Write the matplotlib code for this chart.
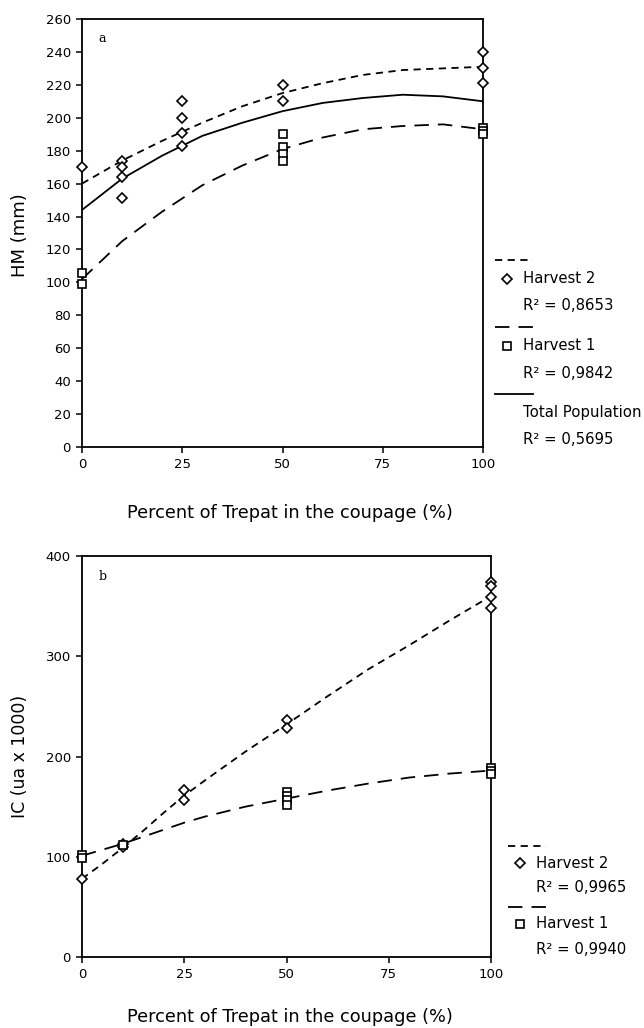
import matplotlib
matplotlib.use("Agg")
import matplotlib.pyplot as plt
from matplotlib.lines import Line2D

# ---- panel a: HM (mm) ----
a_h2_x = [0, 10, 10, 10, 10, 25, 25, 25, 25, 50, 50, 100, 100, 100]
a_h2_y = [170, 174, 170, 164, 151, 210, 200, 191, 183, 220, 210, 240, 230, 221]
a_h1_x = [0, 0, 50, 50, 50, 50, 100, 100, 100]
a_h1_y = [106, 99, 190, 182, 178, 174, 194, 192, 190]

curve_x = [0, 10, 20, 30, 40, 50, 60, 70, 80, 90, 100]
a_fit_h2 = [160, 174, 186, 197, 207, 215, 221, 226, 229, 230, 231]
a_fit_h1 = [102, 125, 143, 159, 171, 181, 188, 193, 195, 196, 193]
a_fit_tot = [144, 163, 177, 189, 197, 204, 209, 212, 214, 213, 210]

# ---- panel b: IC (ua x 1000) ----
b_h2_x = [0, 10, 10, 25, 25, 50, 50, 100, 100, 100, 100]
b_h2_y = [78, 113, 110, 167, 157, 236, 228, 374, 370, 359, 348]
b_h1_x = [0, 0, 10, 50, 50, 50, 50, 100, 100, 100]
b_h1_y = [102, 99, 112, 165, 161, 157, 152, 189, 186, 183]

b_curve_x = [0, 5, 10, 15, 20, 25, 30, 40, 50, 60, 70, 80, 90, 100]
b_fit_h2 = [78, 93, 109, 126, 144, 161, 176, 205, 232, 260, 287, 311, 336, 360]
b_fit_h1 = [101, 107, 113, 120, 127, 134, 140, 150, 158, 166, 173, 179, 183, 186]

x_ticks = [0, 25, 50, 75, 100]
xlabel = "Percent of Trepat in the coupage (%)"

W, H = 644, 1028
LS_H2 = (0, (4, 3))
LS_H1 = (0, (8, 5))
MS = {"D": 5, "s": 6}


def fx(px):
    return px / W


def fy(py):
    return 1 - py / H


fig = plt.figure(figsize=(W / 100, H / 100), dpi=100)

ax1 = fig.add_axes([fx(82), fy(447), (483 - 82) / W, (447 - 19) / H])
ax2 = fig.add_axes([fx(82), fy(957), (491 - 82) / W, (957 - 556) / H])

mk = dict(linestyle="none", mfc="white", mec="black", mew=1.2, zorder=3, clip_on=False)

ax1.plot(curve_x, a_fit_h2, color="black", lw=1.3, ls=LS_H2)
ax1.plot(curve_x, a_fit_h1, color="black", lw=1.3, ls=LS_H1)
ax1.plot(curve_x, a_fit_tot, color="black", lw=1.3)
ax1.plot(a_h2_x, a_h2_y, marker="D", ms=MS["D"], **mk)
ax1.plot(a_h1_x, a_h1_y, marker="s", ms=MS["s"], **mk)
ax1.set_ylim(0, 260)
ax1.set_yticks(range(0, 261, 20))

ax2.plot(b_curve_x, b_fit_h2, color="black", lw=1.3, ls=LS_H2)
ax2.plot(b_curve_x, b_fit_h1, color="black", lw=1.3, ls=LS_H1)
ax2.plot(b_h2_x, b_h2_y, marker="D", ms=MS["D"], **mk)
ax2.plot(b_h1_x, b_h1_y, marker="s", ms=MS["s"], **mk)
ax2.set_ylim(0, 400)
ax2.set_yticks(range(0, 401, 100))

for ax in (ax1, ax2):
    ax.set_xlim(0, 100)
    ax.set_xticks(x_ticks)
    ax.tick_params(direction="out", length=4, width=1.1, labelsize=9.5, pad=4)
    for s in ax.spines.values():
        s.set_linewidth(1.3)

# axis labels
fig.text(fx(20), fy(235), "HM (mm)", rotation=90, ha="center", va="center", fontsize=13)
fig.text(fx(20), fy(756), "IC (ua x 1000)", rotation=90, ha="center", va="center", fontsize=12.5)
fig.text(fx(290), fy(513), xlabel, ha="center", va="center", fontsize=12.8)
fig.text(fx(290), fy(1017), xlabel, ha="center", va="center", fontsize=12.8)

fig.text(fx(102), fy(38), "a", ha="center", va="center", fontsize=9, family="DejaVu Serif")
fig.text(fx(103), fy(577), "b", ha="center", va="center", fontsize=9, family="DejaVu Serif")


def legend(entries, top, step, dt, dr, x0, x1, xm, xt):
    for i, (ls, marker, name, r2) in enumerate(entries):
        y = top + i * step
        fig.add_artist(Line2D([fx(x0), fx(x1)], [fy(y), fy(y)], color="black", lw=1.3, ls=ls))
        if marker:
            fig.add_artist(Line2D([fx(xm)], [fy(y + dt)], marker=marker,
                                  ms=MS[marker], mfc="white", mec="black", mew=1.2))
        fig.text(fx(xt), fy(y + dt), name, va="center", ha="left", fontsize=10.7)
        fig.text(fx(xt), fy(y + dr), r2, va="center", ha="left", fontsize=10.7)


legend_a = [(LS_H2, "D", "Harvest 2", "R² = 0,8653"),
            (LS_H1, "s", "Harvest 1", "R² = 0,9842"),
            ("-", None, "Total Population", "R² = 0,5695")]
legend_b = [(LS_H2, "D", "Harvest 2", "R² = 0,9965"),
            (LS_H1, "s", "Harvest 1", "R² = 0,9940")]

legend(legend_a, 260, 67, 19, 46, 495, 533, 507, 523)
legend(legend_b, 846, 61, 17, 42, 508, 546, 520, 536)

fig.savefig("out.png", dpi=100)
